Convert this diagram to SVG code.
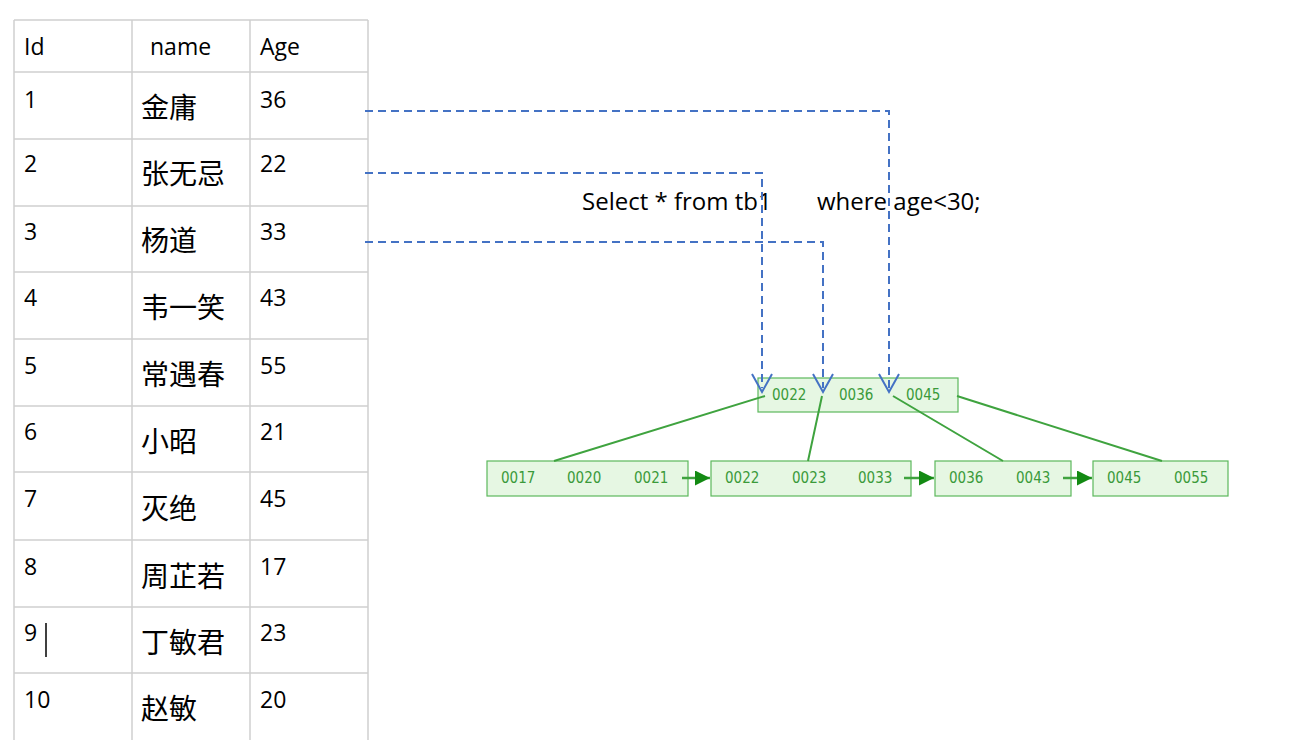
<svg xmlns="http://www.w3.org/2000/svg" width="1313" height="754" viewBox="0 0 1313 754">
<style>
.g{stroke:#d0d0d0;stroke-width:1.5;fill:none}
.t{font-family:"Open Sans","Noto Sans CJK SC",sans-serif;font-size:23px;fill:#000}
.q{font-family:"Open Sans",sans-serif;font-size:24px;fill:#000}
.c{font-family:"Noto Sans CJK SC",sans-serif;font-size:28px;fill:#000}
.box{fill:#e6f7e3;stroke:#5cb85c;stroke-width:1.2}
.k{font-family:"DejaVu Sans Condensed","Liberation Sans",sans-serif;font-size:15px;fill:#3a9a3a}
.gl{stroke:#3fa33f;stroke-width:2;fill:none}
.ga{stroke:#3fa33f;stroke-width:2.5;fill:none;marker-end:url(#ga)}
.d{stroke:#4472c4;stroke-width:2;stroke-dasharray:8,5;fill:none}
.ah{stroke:#4472c4;stroke-width:2;fill:none}
</style>
<defs>
<marker id="ga" viewBox="0 0 10 10" refX="10" refY="5" markerWidth="6" markerHeight="6" orient="auto" markerUnits="strokeWidth"><path d="M0,0L10,5L0,10z" fill="#138a13"/></marker>
</defs>
<rect width="1313" height="754" fill="#fff"/>
<g id="table">
<path class="g" d="M14,20V740M132,20V740M250,20V740M368,20V740M14,20H368M14,72H368M14,139H368M14,206H368M14,272H368M14,339H368M14,406H368M14,472H368M14,540H368M14,607H368M14,673H368"/>
<text class="t" x="24" y="55">Id</text><text class="t" x="150" y="55">name</text><text class="t" x="260" y="55">Age</text>
<g class="t"><text x="24" y="108">1</text><text x="24" y="172">2</text><text x="24" y="240">3</text><text x="24" y="306">4</text><text x="24" y="374">5</text><text x="24" y="440">6</text><text x="24" y="507">7</text><text x="24" y="575">8</text><text x="24" y="641">9</text><text x="24" y="708">10</text>
<text x="260" y="108">36</text><text x="260" y="172">22</text><text x="260" y="240">33</text><text x="260" y="306">43</text><text x="260" y="374">55</text><text x="260" y="440">21</text><text x="260" y="507">45</text><text x="260" y="575">17</text><text x="260" y="641">23</text><text x="260" y="708">20</text></g>
<path d="M46,623V657" stroke="#000" stroke-width="1.5"/>
<g class="c"><text x="141" y="118">金庸</text><text x="141" y="184">张无忌</text><text x="141" y="251">杨道</text><text x="141" y="318">韦一笑</text><text x="141" y="385">常遇春</text><text x="141" y="452">小昭</text><text x="141" y="519">灭绝</text><text x="141" y="587">周芷若</text><text x="141" y="653">丁敏君</text><text x="141" y="719">赵敏</text></g>
</g>
<text id="query" class="q" y="210"><tspan x="582">Select * from tb1</tspan><tspan x="817">where age&lt;30;</tspan></text>
<g id="root"><rect class="box" x="758" y="378" width="200" height="34"/>
<text class="k" x="772" y="400">0022</text><text class="k" x="839" y="400">0036</text><text class="k" x="906" y="400">0045</text></g>
<g id="leaf1"><rect class="box" x="487" y="461" width="201" height="35"/><text class="k" x="501" y="483">0017</text><text class="k" x="567" y="483">0020</text><text class="k" x="634" y="483">0021</text></g>
<g id="leaf2"><rect class="box" x="711" y="461" width="200" height="35"/><text class="k" x="725" y="483">0022</text><text class="k" x="792" y="483">0023</text><text class="k" x="858" y="483">0033</text></g>
<g id="leaf3"><rect class="box" x="935" y="461" width="136" height="35"/><text class="k" x="949" y="483">0036</text><text class="k" x="1016" y="483">0043</text></g>
<g id="leaf4"><rect class="box" x="1093" y="461" width="135" height="35"/><text class="k" x="1107" y="483">0045</text><text class="k" x="1174" y="483">0055</text></g>
<g id="connectors">
<path class="gl" d="M765,396L554,461M822,396L808,461M893,396L1003,461M957,396L1162,461"/>
<path class="ga" d="M682,478H710"/>
<path class="ga" d="M904,478H934"/>
<path class="ga" d="M1063,478H1092"/>
<path class="d" d="M365,111H889V388M365,173H762V388M365,242H823V388"/>
<path class="ah" d="M752,374L762,392L772,374M813,374L823,392L833,374M879,374L889,392L899,374"/>
</g>
</svg>
